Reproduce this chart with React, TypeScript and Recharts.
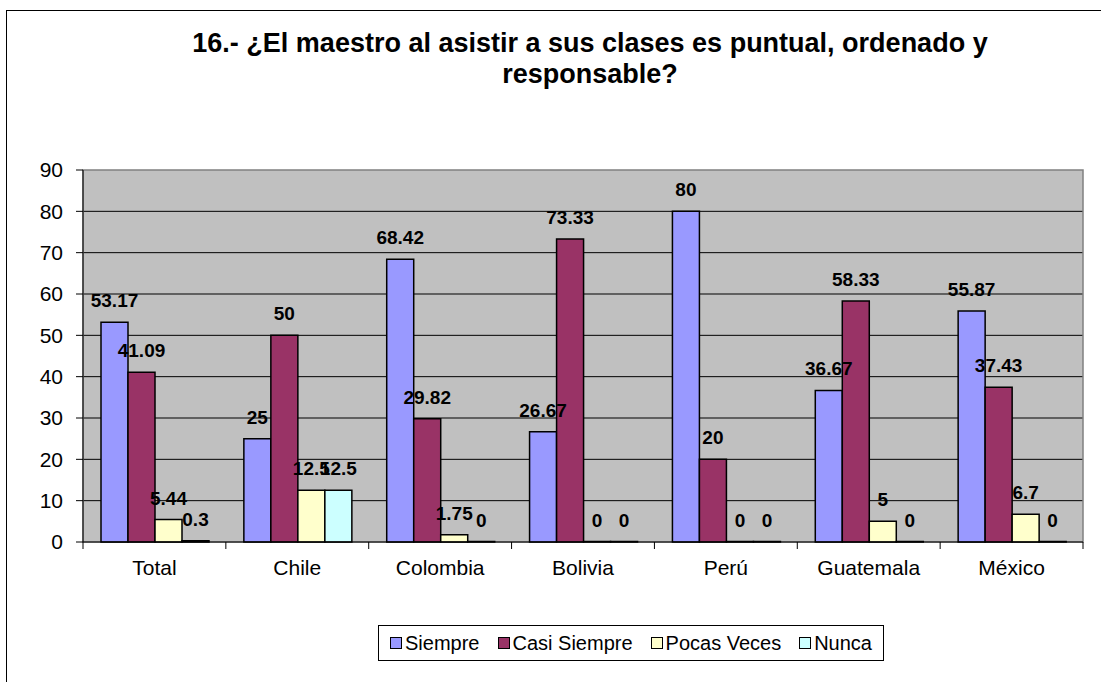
import {
  BarChart,
  Bar,
  XAxis,
  YAxis,
  CartesianGrid,
  LabelList,
  ReferenceArea,
} from "recharts";

const countries = ["Total", "Chile", "Colombia", "Bolivia", "Perú", "Guatemala", "México"];
const siempre = [53.17, 25, 68.42, 26.67, 80, 36.67, 55.87];
const casiSiempre = [41.09, 50, 29.82, 73.33, 20, 58.33, 37.43];
const pocasVeces = [5.44, 12.5, 1.75, 0, 0, 5, 6.7];
const nunca = [0.3, 12.5, 0, 0, 0, 0, 0];
const yTicks = [0, 10, 20, 30, 40, 50, 60, 70, 80, 90];

const SERIES = [
  { key: "siempre", label: "Siempre", color: "#9999ff" },
  { key: "casiSiempre", label: "Casi Siempre", color: "#993366" },
  { key: "pocasVeces", label: "Pocas Veces", color: "#ffffcc" },
  { key: "nunca", label: "Nunca", color: "#ccffff" },
];

const FONT = '"Liberation Sans", Arial, sans-serif';
const W = 1101;
const H = 682;
const PLOT_LEFT = 83;
const PLOT_RIGHT = 1083;

const data = countries.map((c, i) => ({
  name: c,
  siempre: siempre[i],
  casiSiempre: casiSiempre[i],
  pocasVeces: pocasVeces[i],
  nunca: nunca[i],
}));

function CountryTick(props: any) {
  const { x, y, payload, index } = props;
  const step = (PLOT_RIGHT - PLOT_LEFT) / countries.length;
  return (
    <g>
      <line x1={x - step / 2} x2={x - step / 2} y1={y} y2={y + 7} stroke="#000" />
      {index === countries.length - 1 && (
        <line x1={x + step / 2} x2={x + step / 2} y1={y} y2={y + 7} stroke="#000" />
      )}
      <text x={x} y={y + 33} textAnchor="middle" style={{ fontSize: 21, fill: "#000", fontFamily: FONT }}>
        {payload.value}
      </text>
    </g>
  );
}

export default function App() {
  return (
    <div style={{ position: "absolute", left: 0, top: 0, width: W, height: H, background: "#fff", overflow: "hidden", fontFamily: FONT }}>
      <div style={{ position: "absolute", left: 6, top: 10, width: 1200, height: 800, border: "1.5px solid #000" }} />
      <div
        style={{
          position: "absolute",
          left: 140,
          width: 900,
          top: 28,
          textAlign: "center",
          fontSize: 27,
          fontWeight: 700,
          lineHeight: "31px",
          color: "#000",
        }}
      >
        16.- ¿El maestro al asistir a sus clases es puntual, ordenado y
        <br />
        responsable?
      </div>
      <div style={{ position: "absolute", left: 0, top: 0 }}>
        <BarChart
          width={W}
          height={H}
          data={data}
          margin={{ top: 170, right: W - PLOT_RIGHT, bottom: 100, left: 0 }}
          barCategoryGap="12.6%"
          barGap={0}
        >
          <CartesianGrid
            fill="#c0c0c0"
            fillOpacity={1}
            vertical={false}
            stroke="#000"
            horizontalValues={[10, 20, 30, 40, 50, 60, 70, 80]}
          />
          <ReferenceArea y1={0} y2={90} fill="none" stroke="#808080" strokeWidth={1.5} />
          <XAxis
            dataKey="name"
            height={40}
            axisLine={{ stroke: "#000" }}
            tickLine={false}
            tickSize={0}
            tickMargin={0}
            interval={0}
            tick={<CountryTick />}
          />
          <YAxis
            width={PLOT_LEFT}
            domain={[0, 90]}
            ticks={yTicks}
            interval={0}
            axisLine={{ stroke: "#000" }}
            tickLine={{ stroke: "#000" }}
            tickSize={7}
            tickMargin={13}
            tick={{ fontSize: 21, fill: "#000", fontFamily: FONT }}
          />
          {SERIES.map((s) => (
            <Bar
              key={s.key}
              dataKey={s.key}
              fill={s.color}
              stroke="#000"
              strokeWidth={1.5}
              minPointSize={0.5}
              isAnimationActive={false}
            >
              <LabelList
                dataKey={s.key}
                position="top"
                offset={15}
                style={{ fontSize: 19, fontWeight: 700, fill: "#000", fontFamily: FONT }}
              />
            </Bar>
          ))}
        </BarChart>
      </div>
      <div
        style={{
          position: "absolute",
          left: 378,
          top: 625,
          width: 506,
          height: 36,
          border: "1px solid #000",
          boxSizing: "border-box",
          display: "flex",
          alignItems: "center",
          justifyContent: "center",
          gap: 18,
          fontSize: 20,
          color: "#000",
        }}
      >
        {SERIES.map((s) => (
          <div key={s.key} style={{ display: "flex", alignItems: "center" }}>
            <span
              style={{
                display: "inline-block",
                width: 10,
                height: 10,
                background: s.color,
                border: "1.5px solid #000",
                marginRight: 3,
              }}
            />
            {s.label}
          </div>
        ))}
      </div>
    </div>
  );
}
